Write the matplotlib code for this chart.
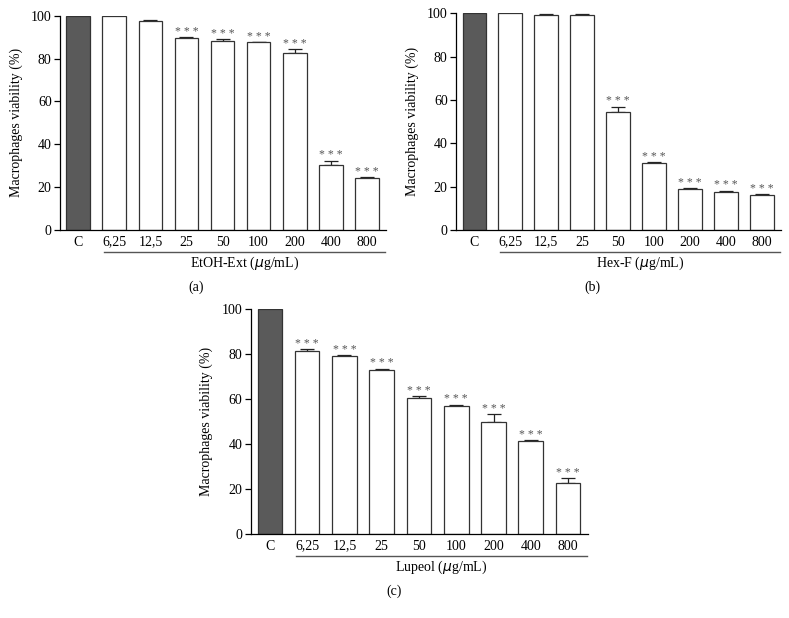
import matplotlib.pyplot as plt
import numpy as np

plt.rcParams['font.family'] = ['Liberation Serif', 'DejaVu Serif']
plt.rcParams['font.size'] = 10
plt.rcParams['axes.linewidth'] = 0.9

categories = ['C', '6,25', '12,5', '25', '50', '100', '200', '400', '800']

# panel (a) EtOH-Ext
etoh_mean = [100, 100, 97.4, 89.7, 88.3, 87.6, 82.6, 30.2, 24.3]
etoh_err = [0, 0.3, 0.4, 0.4, 0.6, 0.2, 1.9, 2.1, 0.5]
etoh_sig = [False, False, False, True, True, True, True, True, True]

# panel (b) Hex-F
hex_mean = [100, 100, 99.4, 99.4, 54.7, 30.8, 19.0, 17.7, 16.2]
hex_err = [0, 0, 0.4, 0.4, 2.2, 0.4, 0.2, 0.5, 0.4]
hex_sig = [False, False, False, False, True, True, True, True, True]

# panel (c) Lupeol
lup_mean = [100, 81.2, 79.3, 72.7, 60.6, 56.7, 49.8, 41.5, 22.6]
lup_err = [0, 1.1, 0.3, 0.8, 0.7, 0.8, 3.5, 0.3, 2.1]
lup_sig = [False, True, True, True, True, True, True, True, True]

panels = [
    ('EtOH-Ext', etoh_mean, etoh_err, etoh_sig, [0.076, 0.6278, 0.413, 0.3468], '(a)', 196),
    ('Hex-F', hex_mean, hex_err, hex_sig, [0.578, 0.6278, 0.412, 0.3506], '(b)', 592),
    ('Lupeol', lup_mean, lup_err, lup_sig, [0.318, 0.1359, 0.427, 0.364], '(c)', 394),
]

fig = plt.figure(figsize=(7.89, 6.18), dpi=100)

for name, mean, err, sig, rect, tag, tag_x in panels:
    ax = fig.add_axes(rect)
    x = np.arange(len(categories))
    colors = ['#5a5a5a'] + ['white'] * (len(categories) - 1)
    ax.bar(x, mean, width=0.66, color=colors, edgecolor='#333333', linewidth=0.9, zorder=2)
    ax.errorbar(x, mean, yerr=[np.zeros(len(err)), err], fmt='none', ecolor='#222222',
                elinewidth=0.9, capsize=5, capthick=0.9, zorder=1)
    for i in range(len(categories)):
        if sig[i]:
            ax.annotate('* * *', (x[i], mean[i] + err[i]), xytext=(0, -0.5), textcoords='offset points',
                        ha='center', va='bottom', fontsize=8.5, color='#555555')
    ax.set_xlim(-0.51, 8.53)
    ax.set_ylim(0, 100)
    ax.set_yticks(np.arange(0, 101, 20))
    ax.set_xticks(x)
    ax.set_xticklabels(categories, fontsize=10)
    ax.tick_params(axis='x', length=0, pad=4)
    ax.tick_params(axis='y', length=4, width=0.9, labelsize=10, pad=2)
    ax.spines['top'].set_visible(False)
    ax.spines['right'].set_visible(False)
    ax.set_ylabel('Macrophages viability (%)', fontsize=10, labelpad=6)

    # line under the concentration labels
    h = rect[3] * 618
    trans = ax.get_xaxis_transform()
    ax.plot([0.7, 8.5], [-22 / h, -22 / h], color='#555555', lw=1, transform=trans, clip_on=False)
    ax.text(4.6, -33 / h, name + ' ($\\mu$g/mL)', transform=trans, ha='center', va='center', fontsize=10)
    fig.text(tag_x / 789, rect[1] - 57 / 618, tag, ha='center', va='center', fontsize=10)

fig.savefig('out.png', dpi=100)
